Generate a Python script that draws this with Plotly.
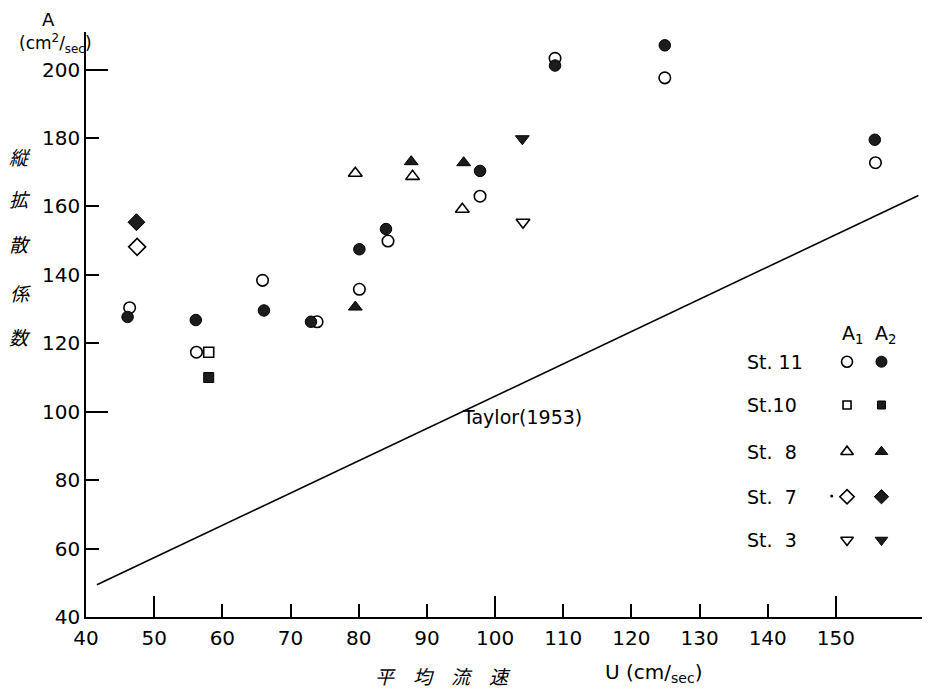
import plotly.graph_objects as go

# ---------------- data ----------------
st11_a1_x = [46.4, 56.2, 65.9, 73.9, 80.1, 84.3, 97.8, 108.8, 124.9, 155.8]
st11_a1_y = [130.4, 117.4, 138.4, 126.3, 135.8, 149.9, 163.0, 203.3, 197.6, 172.8]
st11_a2_x = [46.1, 56.1, 66.1, 73.0, 80.1, 84.0, 97.8, 108.8, 124.9, 155.7]
st11_a2_y = [127.7, 126.8, 129.6, 126.3, 147.5, 153.4, 170.4, 201.2, 207.1, 179.5]
st10_a1_x = [58.0]
st10_a1_y = [117.4]
st10_a2_x = [58.0]
st10_a2_y = [110.0]
st8_a1_x = [79.5, 87.9, 95.2]
st8_a1_y = [169.7, 168.8, 159.2]
st8_a2_x = [79.5, 87.7, 95.4]
st8_a2_y = [130.6, 173.1, 172.8]
st7_a1_x = [47.5]
st7_a1_y = [148.2]
st7_a2_x = [47.4]
st7_a2_y = [155.4]
st3_a1_x = [104.1]
st3_a1_y = [155.4]
st3_a2_x = [104.0]
st3_a2_y = [179.8]
taylor_x = [41.6, 162.1]
taylor_y = [49.4, 163.2]

x_ticks = list(range(40, 151, 10))
y_ticks = list(range(40, 201, 20))
legend_labels = ["St. 11", "St.10", "St.  8", "St.  7", "St.  3"]

# ---------------- styling ----------------
BLACK = "#000000"
FILL = "#1c1c1c"
NUMFONT = "DejaVu Sans"
CJK = "Noto Sans CJK JP"

fig = go.Figure()

def open_marker(sym, size):
    return dict(symbol=sym, size=size, color="white", line=dict(color=BLACK, width=1.6))

def filled_marker(sym, size):
    return dict(symbol=sym, size=size, color=FILL, line=dict(color=BLACK, width=1))

series = [
    (st11_a1_x, st11_a1_y, open_marker("circle", 11.5)),
    (st11_a2_x, st11_a2_y, filled_marker("circle", 11.5)),
    (st10_a1_x, st10_a1_y, open_marker("square", 10)),
    (st10_a2_x, st10_a2_y, filled_marker("square", 10)),
    (st8_a1_x, st8_a1_y, open_marker("triangle-up", 12)),
    (st8_a2_x, st8_a2_y, filled_marker("triangle-up", 12)),
    (st7_a1_x, st7_a1_y, open_marker("diamond", 13)),
    (st7_a2_x, st7_a2_y, filled_marker("diamond", 13)),
    (st3_a1_x, st3_a1_y, open_marker("triangle-down", 12)),
    (st3_a2_x, st3_a2_y, filled_marker("triangle-down", 12)),
]

fig.add_trace(go.Scatter(x=taylor_x, y=taylor_y, mode="lines",
                         line=dict(color=BLACK, width=1.6), showlegend=False))
for xs, ys, mk in series:
    fig.add_trace(go.Scatter(x=xs, y=ys, mode="markers", marker=mk, showlegend=False))

# --- legend keys drawn on a hidden overlay axis (0..1 over the plot area) ---
leg_col1, leg_col2 = 0.9017, 0.9425
leg_rows = [0.4364, 0.3624, 0.2826, 0.2056, 0.1316]
leg_syms = ["circle", "square", "triangle-up", "diamond", "triangle-down"]
leg_sizes = [11, 8, 11, 11, 11]
for r, s, sz in zip(leg_rows, leg_syms, leg_sizes):
    fig.add_trace(go.Scatter(x=[leg_col1], y=[r], mode="markers", xaxis="x2", yaxis="y2",
                             marker=open_marker(s, sz), showlegend=False, hoverinfo="skip"))
    fig.add_trace(go.Scatter(x=[leg_col2], y=[r], mode="markers", xaxis="x2", yaxis="y2",
                             marker=filled_marker(s, sz), showlegend=False, hoverinfo="skip"))
# small dot before the St. 7 diamond
fig.add_trace(go.Scatter(x=[0.8835], y=[0.2068], mode="markers", xaxis="x2", yaxis="y2",
                         marker=dict(size=3, color=BLACK), showlegend=False, hoverinfo="skip"))

# dummy traces so that overlay tick axes (long ticks) get drawn
fig.add_trace(go.Scatter(x=[None], y=[None], xaxis="x3", yaxis="y", showlegend=False))
fig.add_trace(go.Scatter(x=[None], y=[None], xaxis="x", yaxis="y3", showlegend=False))

XR = [40, 163.8]
YR = [40, 211]

# page has an 8px body margin: margins compensate so the plot area sits at
# page pixels x 86..930, y 32..617
fig.update_layout(
    width=930, height=689,
    margin=dict(l=78, r=8, t=24, b=80, autoexpand=False),
    paper_bgcolor="white", plot_bgcolor="white",
    showlegend=False,
    font=dict(family=NUMFONT, color=BLACK, size=20),
    xaxis=dict(range=XR, showgrid=False, zeroline=False, showline=True, linecolor=BLACK,
               linewidth=1.6, ticks="inside", ticklen=13, tickwidth=1.5, tickcolor=BLACK,
               tickvals=x_ticks, ticktext=[str(v) for v in x_ticks], automargin=False,
               ticklabelstandoff=2,
               tickfont=dict(family=NUMFONT, size=20, color=BLACK)),
    yaxis=dict(range=YR, showgrid=False, zeroline=False, showline=True, linecolor=BLACK,
               linewidth=1.6, ticks="inside", ticklen=13, tickwidth=1.5, tickcolor=BLACK,
               tickvals=y_ticks, ticktext=[str(v) for v in y_ticks], automargin=False,
               tickfont=dict(family=NUMFONT, size=20, color=BLACK)),
    xaxis2=dict(range=[0, 1], overlaying="x", anchor="y2", visible=False, automargin=False),
    yaxis2=dict(range=[0, 1], overlaying="y", anchor="x2", visible=False, automargin=False),
    xaxis3=dict(range=XR, overlaying="x", anchor="y", showgrid=False, zeroline=False,
                showline=False, ticks="inside", ticklen=21, tickwidth=1.5, tickcolor=BLACK,
                tickvals=[50, 100, 150], showticklabels=False, automargin=False),
    yaxis3=dict(range=YR, overlaying="y", anchor="x", showgrid=False, zeroline=False,
                showline=False, ticks="inside", ticklen=22, tickwidth=1.5, tickcolor=BLACK,
                tickvals=[100, 200], showticklabels=False, automargin=False),
)

def px(x):
    return (x - 86) / 844

def py(y):
    return (617 - y) / 585

def note(x, y, text, size=19, family=NUMFONT, xanchor="center"):
    return dict(x=px(x), y=py(y), xref="paper", yref="paper", text=text, showarrow=False,
                xanchor=xanchor, yanchor="middle", font=dict(size=size, family=family))

ann = []
# Taylor label (tied to data coords)
ann.append(dict(x=94.8, y=98.5, xref="x", yref="y", text="Taylor(1953)", showarrow=False,
                xanchor="left", yanchor="middle", font=dict(size=19, family=NUMFONT)))
# legend header and labels
ann.append(note(852, 335, "A<sub>1</sub>"))
ann.append(note(885, 335, "A<sub>2</sub>"))
for lab, r in zip(legend_labels, [361.7, 405, 451.7, 496.7, 540]):
    ann.append(note(745, r, lab.replace(" ", "&nbsp;"), xanchor="left"))
# y axis unit label
ann.append(note(48, 19, "A", size=18))
ann.append(note(55, 43, "(cm<sup>2</sup>/<sub>sec</sub>)", size=17))
# vertical Japanese label
for ch, yy in zip("縦拡散係数", [156, 198, 243, 292, 337]):
    ann.append(note(20, yy, "<i>" + ch + "</i>", family=CJK))
# x axis label
ann.append(note(443, 675, "<i>平　均　流　速</i>", family=CJK))
ann.append(note(603, 673, "U&nbsp;(cm/<sub>sec</sub>)", size=20, xanchor="left"))
fig.update_layout(annotations=ann)

fig.write_html("out.html")
